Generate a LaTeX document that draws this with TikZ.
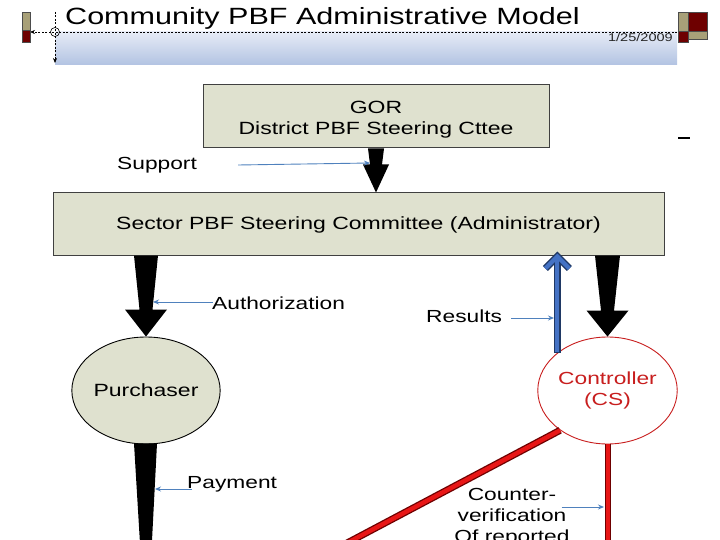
\documentclass[tikz,border=0pt]{standalone}
\usepackage{fontspec}
\setmainfont{Liberation Sans}
\usepackage{graphicx}
\usetikzlibrary{shapes.geometric,arrows.meta,calc}
\newcommand\sx[1]{\scalebox{1.3}[1]{#1}}
\definecolor{boxfill}{RGB}{223,225,207}
\definecolor{lblue}{RGB}{79,129,189}
\definecolor{resblue}{RGB}{68,114,196}
\definecolor{resdark}{RGB}{31,56,100}
\definecolor{redin}{RGB}{232,22,22}
\definecolor{reddark}{RGB}{110,0,0}
\definecolor{ctrlred}{RGB}{200,30,30}
\definecolor{khaki}{RGB}{168,160,120}
\definecolor{dred}{RGB}{110,0,0}
\definecolor{bandtop}{RGB}{230,235,246}
\definecolor{bandbot}{RGB}{178,195,226}
% fat tapering arrow: start, tip, half top width, half neck width, half head width, head length
\newcommand\fatarrow[6]{\fill[black] let \p1=(#1), \p2=(#2) in
  (\x1-#3,\y1) -- (\x2-#4,\y2+#6) -- (\x2-#5,\y2+#6) -- (\x2,\y2) --
  (\x2+#5,\y2+#6) -- (\x2+#4,\y2+#6) -- (\x1+#3,\y1) -- cycle;}
\tikzset{
  box/.style={draw=black!75, line width=1pt, fill=boxfill, rectangle, inner sep=0pt, align=center, font=\fontsize{17.7}{21}\selectfont},
  lab/.style={inner sep=0pt, font=\fontsize{17.5}{21}\selectfont},
  lblarrow/.style={draw=lblue, line width=0.9pt, -{Stealth[length=6pt,width=5pt]}},
  hdash/.style={dash pattern=on 2pt off 1.5pt, line width=0.6pt, -{Stealth[length=5pt,width=4pt]}},
  sq/.style={draw=black!70, line width=0.5pt}
}
\begin{document}
\begin{tikzpicture}[x=1pt,y=-1pt]
\useasboundingbox (0,0) rectangle (720,540);
\clip (0,0) rectangle (720,540);
% header
\shade[top color=bandtop, bottom color=bandbot] (55,32) rectangle (677,65);
\draw[hdash] (677,32) -- (30,32);
\draw[hdash] (55,12) -- (55,63);
\draw[line width=0.6pt] (55,32) circle (4.5);
\node[anchor=base west, inner sep=0pt, font=\fontsize{23.5}{26}\selectfont] (title) at (65,25) {\sx{Community PBF Administrative Model}};
\node[anchor=base east, inner sep=0pt, font=\fontsize{11.2}{13}\selectfont, text=black!85] (date) at (673,42) {\sx{1/25/2009}};
\filldraw[sq, fill=khaki] (22,12) rectangle (30,30);
\filldraw[sq, fill=dred] (22,30) rectangle (30,42);
\filldraw[sq, fill=khaki] (678,12) rectangle (688,31);
\filldraw[sq, fill=dred] (688,12) rectangle (707,31);
\filldraw[sq, fill=dred] (678,31) rectangle (688,42);
\filldraw[sq, fill=khaki] (688,31) rectangle (707,39);
\draw[line width=1.3pt] (678,138) -- (690,138);

% main nodes
\node[box, minimum width=346pt, minimum height=63pt] (gor) at (376,116.5) {\rule{0pt}{17.7pt}\sx{GOR}\\\sx{District PBF Steering Cttee}};
\node[box, minimum width=611pt, minimum height=62pt] (sector) at (358.5,224) {\rule{0pt}{14.5pt}\sx{Sector PBF Steering Committee (Administrator)}};
\node[ellipse, draw=black, line width=0.9pt, fill=boxfill, minimum width=140pt, minimum height=107pt, inner sep=0pt, font=\fontsize{17.7}{21}\selectfont] (purch) at (146,390.5) {\sx{Purchaser}};
\node[ellipse, draw=ctrlred, line width=0.9pt, fill=white, minimum width=139pt, minimum height=107pt, inner sep=0pt, align=center, text=ctrlred, font=\fontsize{17.5}{21}\selectfont] (ctrl) at (607.5,390.5) {\sx{Controller}\\\sx{(CS)}};

% fat arrows
\fatarrow{gor.south}{gor.south |- sector.north}{8pt}{6pt}{13pt}{28pt}
\fatarrow{purch.north |- sector.south}{purch.north}{12pt}{6.5pt}{21pt}{27pt}
\fatarrow{ctrl.north |- sector.south}{ctrl.north}{12.5pt}{6.5pt}{21pt}{26pt}

% payment shaft
\coordinate (payend) at (146,560);
\fill[black] ($(purch.south)+(-12,-1)$) -- ($(purch.south)+(11,-1)$) -- ($(payend)+(5,0)$) -- ($(payend)+(-5,0)$) -- cycle;

% results arrow (controller -> sector)
\coordinate (resTop) at (ctrl.143 |- sector.south);
\draw[line width=7pt, resdark, line join=miter] ($(resTop)+(-12,13)$) -- ($(resTop)+(0,1)$) -- ($(resTop)+(12,13)$);
\draw[line width=7pt, resdark] (ctrl.143) -- ($(resTop)+(0,3)$);
\draw[line width=4.2pt, resblue, line join=miter] ($(resTop)+(-12,13)$) -- ($(resTop)+(0,1)$) -- ($(resTop)+(12,13)$);
\draw[line width=4.2pt, resblue] ($(ctrl.143)+(0,-1)$) -- ($(resTop)+(0,3)$);

% red counter-verification lines
\coordinate (diagend) at (315,560);
\coordinate (vertend) at (608,560);
\draw[line width=7pt, reddark] (ctrl.220) -- (diagend);
\draw[line width=4.4pt, redin] (ctrl.220) -- (diagend);
\draw[line width=6.5pt, reddark] ($(ctrl.south)+(0.5,0)$) -- (vertend);
\draw[line width=4pt, redin] ($(ctrl.south)+(0.5,0)$) -- (vertend);

% labels
\node[lab, anchor=base west] (support) at (117,170) {\sx{Support}};
\node[lab, anchor=base west] (auth) at (212,309) {\sx{Authorization}};
\node[lab, anchor=base west] (results) at (426,322) {\sx{Results}};
\node[lab, anchor=base west] (pay) at (187,488) {\sx{Payment}};
\node[lab, anchor=north, align=center] (counter) at (512,488) {\sx{Counter-}\\\sx{verification}\\\sx{Of reported}};

% label arrows
\coordinate (supTip) at (370,163);
\coordinate (authTip) at (153,302);
\coordinate (resTip) at (554,318);
\coordinate (payTip) at (155,489);
\coordinate (cntTip) at (604,507);
\draw[lblarrow] ($(support.east |- supTip)+(41,2)$) -- (supTip);
\draw[lblarrow] ($(auth.west |- authTip)+(1,0)$) -- (authTip);
\draw[lblarrow] ($(results.east |- resTip)+(9,0)$) -- (resTip);
\draw[lblarrow] ($(pay.west |- payTip)+(5,0)$) -- (payTip);
\draw[lblarrow] ($(cntTip -| counter.east)+(-8,0)$) -- (cntTip);
\end{tikzpicture}
\end{document}
